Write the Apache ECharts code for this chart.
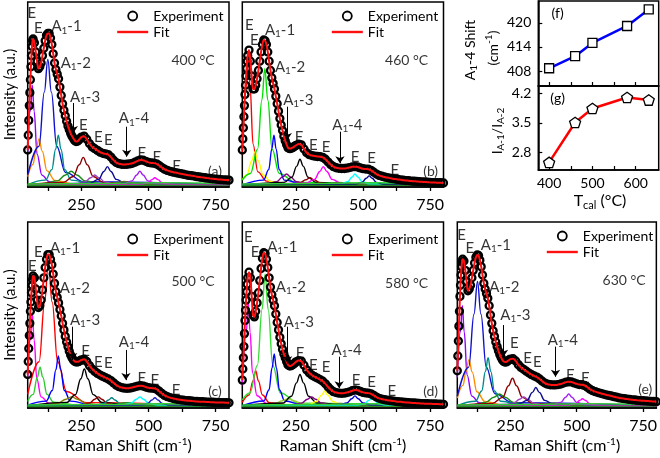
<!DOCTYPE html>
<html><head><meta charset="utf-8">
<script src="https://cdn.jsdelivr.net/npm/echarts@6.0.0/dist/echarts.min.js"></script>
<style>html,body{margin:0;padding:0;background:#fff}#c{width:660px;height:458px}</style>
</head><body><div id="c"></div><script>
const FONT = 'Lato';
// ---------- DATA ----------
const ramanShift = [50,52,54,56,58,60,62,64,66,68,70,75,80,85,90,95,100,105,110,115,120,125,130,135,140,145,150,155,160,165,170,175,180,185,190,195,200,205,210,215,220,225,230,235,240,245,250,260,270,280,290,300,310,320,330,340,350,360,370,380,390,400,410,420,430,440,450,460,470,480,490,500,510,520,530,540,550,560,570,580,590,600,610,620,630,640,650,660,670,680,690,700,710,720,730,740,750,760,770,780,790,800];
const intensity400 = [20,28,36,44,51,58,65,71,76,79,80,78,73,68,64,65,67,71,75,79,82,83,83,80.5,77,72,67,63.5,61,58.5,54,49.5,45,41.5,38.5,35.5,33,31,29,27.5,26.3,25.2,24.6,24.7,25.3,26.2,27,
 27.5,25.8,23.5,21.7,20.7,19.8,18.8,18.2,17.9,17.5,16.2,14.5,13.2,12.6,12.3,12.2,12.3,12.5,12.8,13.4,14.1,14.6,14.5,13.9,13.3,13.0,12.9,12.5,11.6,10.5,9.6,9.0,8.5,8.1,7.8,7.5,7.2,6.9,6.6,6.3,6.1,5.9,5.6,5.4,5.2,5.0,4.8,4.6,4.4,4.3,4.1,4.0,3.9,3.8,3.7];
const intensity460 = [20,26,32,38,44,50,55,60,64,68,71,74,68,60,53,53,55,58.5,63,68,73,77,79.5,79,77,73,68,63,59,56,53,49,45,41,37,33.5,30.5,27.5,25,23,21.3,20.8,20.8,21.1,21.5,22,22.5,
 23.2,22.8,20.5,18.5,17.5,17,16.7,16.5,16.4,16,15,13.5,12,11,10.4,10.1,10,10,10.2,10.5,10.9,11,10.8,10.3,9.9,9.7,9.6,9.0,8.0,7.0,6.3,5.8,5.4,5.1,4.8,4.5,4.3,4.1,3.9,3.7,3.5,3.4,3.2,3.1,3.0,2.9,2.8,2.7,2.6,2.5,2.4,2.4,2.3,2.3,2.2];
const intensity500 = [18,25,32,39,45.5,52,57,62,66,69,71,70,64,58,54,55,58,63.5,70,75.5,80,82.5,82.5,80,77,72,67,62.5,59.5,56.5,53,49.5,45.5,42,38.5,35.5,33,30.5,28.5,27,25.8,25.1,24.8,24.8,25,25.4,25.8,
 26.2,25,22.8,21,19.7,18.6,17.7,17,16.3,15.6,14.7,13.5,12.3,11.5,11,10.7,10.6,10.7,11,11.4,11.8,12,11.8,11.3,10.9,10.7,10.6,10.1,9.0,7.8,6.8,6.1,5.6,5.2,4.9,4.6,4.4,4.2,4.0,3.9,3.8,3.6,3.5,3.4,3.35,3.3,3.2,3.15,3.1,3.0,3.0,2.9,2.9,2.85,2.8];
const intensity580 = [15,21,27,33,40,47,52.5,58,62.5,66.5,70,73,70,60,50,49,52,56.5,62,68.5,75,80.5,83.5,83,80,75.5,70,65,61,58,55,50.5,46,42,38,34.5,31.5,29,27,25,23.3,22.7,22.6,23,23.5,24.1,24.8,
 25.5,25.2,23,20.5,18.8,17.6,16.8,16.1,15.3,14.4,13,11.3,9.8,8.8,8.3,8.0,7.9,8.0,8.3,8.7,9.3,9.7,9.5,8.9,8.4,8.1,8.0,7.6,6.8,5.9,5.2,4.8,4.5,4.2,4.0,3.8,3.6,3.4,3.3,3.1,3.0,2.9,2.8,2.7,2.6,2.5,2.4,2.35,2.3,2.25,2.2,2.15,2.1,2.05,2.0];
const intensity630 = [20,28,36,44,52,60,66,71.5,76,78.5,80,79,74,68,63,64,66,70,74,78,81,82.3,82,79.5,76,71.5,67,64,61.5,59,55,50,45.5,41.5,38.5,35.5,33,30.8,28.8,27.2,25.8,25,24.7,24.8,25.3,25.8,26.3,
 26.5,25.3,23.3,21.8,20.8,19.8,18.8,17.9,17.2,16.6,15.6,14.4,13.4,12.8,12.5,12.4,12.4,12.6,12.9,13.4,13.9,14.1,14.0,13.5,13.0,12.6,12.5,12.1,11.2,10.1,9.3,8.8,8.3,7.9,7.5,7.1,6.8,6.5,6.1,5.8,5.4,5.2,5.0,4.8,4.6,4.4,4.3,4.1,4.0,3.9,3.8,3.7,3.6,3.5,3.4];

// fitted component peaks: [shift, intensity] points
const comp400 = [
 [[50,19],[60,41],[67,55],[74,41],[85,17.7],[103,6.4],[130,2.9],[200,1.5],[800,1]],
 [[50,5.6],[70,12.3],[80,19.4],[92,26],[104,19.4],[122,8.7],[152,3.5],[220,1.6],[800,1]],
 [[50,6.4],[92,22],[112,51.4],[125,69],[138,51.4],[158,22],[191,7.8],[260,2.8],[800,1]],
 [[50,1.3],[116,3.7],[140,9.4],[154,20.4],[164,28],[174,20.4],[188,9.4],[212,3.7],[300,1.4],[800,1]],
 [[50,1.5],[107,1.8],[160,3.3],[191,6.5],[212,8.5],[233,6.5],[264,3.3],[317,1.8],[450,1.2],[800,1]],
 [[50,1.2],[182,2.5],[220,5.7],[242,12],[257,16],[272,12],[294,5.7],[332,2.5],[450,1.3],[800,1]],
 [[50,1],[225,1.5],[262,2.7],[285,5],[300,6.5],[315,5],[338,2.7],[375,1.5],[800,1]],
 [[50,1],[281,2],[314,4.1],[334,8.4],[347,11],[360,8.4],[380,4.1],[413,2],[550,1.2],[800,1]],
 [[50,1],[340,1.3],[410,3],[480,1.3],[800,1]],
 [[50,1],[408,1.75],[438,3.3],[456,6.5],[468,8.5],[480,6.5],[498,3.3],[528,1.75],[650,1.1],[800,1]],
 [[50,1],[470,1.4],[497,2.2],[513,4],[524,5],[535,4],[551,2.2],[578,1.4],[800,1]],
 [[50,1.6],[300,1.9],[550,2.3],[800,2.0]],
 [[50,0.8],[800,1.0]]
];
const comp460 = [
 [[50,17.5],[65,54],[72,73],[79,54],[90,23.2],[108,8.2],[140,3.2],[250,1.3],[800,1]],
 [[50,3.8],[67,6.6],[85,14.2],[97,19],[109,14.2],[127,6.6],[157,2.8],[250,1.3],[800,1]],
 [[50,3.8],[80,7.3],[107,20.5],[123,47],[134,64],[145,47],[161,20.5],[188,7.3],[250,2.5],[800,1]],
 [[50,1.1],[129,3.7],[148.5,9.4],[160,20.6],[168,28],[176,20.6],[187.5,9.4],[207,3.7],[280,1.4],[800,1]],
 [[50,1.2],[140,1.6],[178,2.9],[200,5.4],[215,7],[230,5.4],[252,2.9],[290,1.6],[400,1.1],[800,1]],
 [[50,1],[205,2.4],[235,5.3],[253,11.3],[265,15],[277,11.3],[295,5.3],[325,2.4],[450,1.2],[800,1]],
 [[50,1],[227,1.4],[264,2.2],[287,3.9],[302,5],[317,3.9],[340,2.2],[377,1.4],[800,1]],
 [[50,1],[286,2],[319,4.1],[339,8.4],[352,11],[365,8.4],[385,4.1],[418,2],[550,1.2],[800,1]],
 [[50,1],[340,1.3],[410,2.5],[480,1.3],[800,1]],
 [[50,1],[416,1.6],[443,2.9],[459,5.4],[470,7],[481,5.4],[497,2.9],[524,1.6],[800,1]],
 [[50,1],[469,1.5],[496,2.5],[512,4.7],[523,6],[534,4.7],[550,2.5],[577,1.5],[800,1]],
 [[50,1.6],[300,1.9],[550,2.3],[800,2.0]],
 [[50,0.8],[800,1.0]]
];
const comp500 = [
 [[50,15.7],[60,36.6],[67,51],[74,36.6],[84,15.7],[100,6],[130,2.5],[250,1.2],[800,1]],
 [[50,3.5],[70,7.3],[86,16.6],[96,22],[106,16.6],[122,7.3],[147,3.1],[250,1.2],[800,1]],
 [[50,7.3],[92.5,24.9],[113,57],[127,78],[141,57],[161.5,24.9],[196,8.7],[270,2.9],[800,1]],
 [[50,1.5],[119,3.7],[141.5,9.4],[155,20.6],[164,28],[173,20.6],[186.5,9.4],[209,3.7],[300,1.3],[800,1]],
 [[50,1.3],[109,1.5],[161,2.5],[193,4.7],[214,6],[235,4.7],[267,2.5],[319,1.5],[800,1]],
 [[50,1.2],[195,3],[228,7.2],[248,15.7],[261,21],[274,15.7],[294,7.2],[327,3],[450,1.3],[800,1]],
 [[50,1],[247,1.5],[280,2.6],[300,4.7],[313,6],[326,4.7],[346,2.6],[379,1.5],[800,1]],
 [[50,1],[303,1.45],[333,2.4],[351,4.3],[363,5.5],[375,4.3],[393,2.4],[423,1.45],[800,1]],
 [[50,1],[350,1.3],[420,2.8],[490,1.3],[800,1]],
 [[50,1],[402,1.5],[435,2.6],[455,4.7],[468,6],[481,4.7],[501,2.6],[534,1.5],[800,1]],
 [[50,1],[470,1.45],[497,2.4],[513,4.3],[524,5.5],[535,4.3],[551,2.4],[578,1.45],[800,1]],
 [[50,1.6],[300,1.9],[550,2.3],[800,2.0]],
 [[50,0.8],[800,1.0]]
];
const comp580 = [
 [[50,12.2],[65,40.8],[72,57],[79,40.8],[88,19],[105,6.6],[140,2.5],[250,1.2],[800,1]],
 [[50,3],[75,7],[90,14.5],[100,20],[110,14.5],[125,7],[151,2.9],[250,1.2],[800,1]],
 [[50,4.4],[78,8.1],[106.5,23],[123.6,53],[135,72],[146.4,53],[163.5,23],[192,8.1],[260,2.6],[800,1]],
 [[50,1.2],[130,3.8],[149.5,9.7],[161,21.6],[169,29],[177,21.6],[188.5,9.7],[208,3.8],[280,1.4],[800,1]],
 [[50,1.2],[116,1.4],[168,2.2],[200,3.9],[221,5],[242,3.9],[274,2.2],[326,1.4],[800,1]],
 [[50,1.2],[202,2.7],[233,6.3],[252,13.5],[265,18],[278,13.5],[297,6.3],[328,2.7],[450,1.3],[800,1]],
 [[50,1],[233,1.5],[270,2.6],[293,4.7],[308,6],[323,4.7],[346,2.6],[383,1.5],[800,1]],
 [[50,1],[297,1.8],[327,3.5],[345,6.9],[357,9],[369,6.9],[387,3.5],[417,1.8],[550,1.1],[800,1]],
 [[50,1],[350,1.3],[415,2.5],[480,1.3],[800,1]],
 [[50,1],[410,1.55],[440,2.7],[458,5],[470,6.5],[482,5],[500,2.7],[530,1.55],[800,1]],
 [[50,1],[478,1.4],[505,2.2],[521,4],[532,5],[543,4],[559,2.2],[586,1.4],[800,1]],
 [[50,1.6],[300,1.9],[550,2.3],[800,2.0]],
 [[50,0.8],[800,1.0]]
];
const comp630 = [
 [[50,16.4],[62,41],[69,55],[76,41],[87,17.7],[105,6.4],[132,2.9],[200,1.5],[800,1]],
 [[50,5.3],[72,12.3],[82,19.4],[94,26],[106,19.4],[124,8.7],[154,3.5],[220,1.6],[800,1]],
 [[50,6.3],[93,22],[113,50.5],[126,68],[139,50.5],[159,22],[192,7.7],[260,2.8],[800,1]],
 [[50,1.3],[118,3.6],[142,9.1],[156,19.7],[166,27],[176,19.7],[190,9.1],[214,3.6],[300,1.4],[800,1]],
 [[50,1.3],[104,1.65],[157,3],[188,5.8],[209,7.5],[230,5.8],[261,3],[314,1.65],[450,1.2],[800,1]],
 [[50,1.2],[183,2.5],[221,5.7],[243,12],[258,16],[273,12],[295,5.7],[333,2.5],[450,1.3],[800,1]],
 [[50,1],[225,1.5],[262,2.6],[285,4.7],[300,6],[315,4.7],[338,2.6],[375,1.5],[800,1]],
 [[50,1],[280,2],[313,4.1],[333,8.4],[346,11],[359,8.4],[379,4.1],[412,2],[550,1.2],[800,1]],
 [[50,1],[340,1.3],[415,2.6],[490,1.3],[800,1]],
 [[50,1],[410,1.65],[440,3],[458,5.8],[470,7.5],[482,5.8],[500,3],[530,1.65],[650,1.1],[800,1]],
 [[50,1],[468,1.4],[495,2.2],[511,4],[522,5],[533,4],[549,2.2],[576,1.4],[800,1]],
 [[50,1.6],[300,1.9],[550,2.3],[800,2.0]],
 [[50,0.8],[800,1.0]]
];
const temperatures = ['400 °C','460 °C','500 °C','580 °C','630 °C'];
const panelTags = ['(a)','(b)','(c)','(d)','(e)'];
const shiftTicks = [125,250,375,500,625,750];
const shiftTickLabels = [250,500,750];

const calcTemp = [400,460,500,580,630];
const a14Shift = [408.7,411.7,415.0,419.2,423.3];
const intensityRatio = [2.57,3.51,3.84,4.10,4.04];
const tempTicks = [400,450,500,550,600];
const tempTickLabels = [400,500,600];
const shiftAxisLabels = [408,414,420];
const ratioAxisLabels = [2.8,3.5,4.2];

// ---------- STYLE / LAYOUT ----------
const colors400 = ['#8f00ff','#ff8c00','#1010d0','#008b8b','#1a8c1a','#8b0000','#a040c0','#0a0a90','#556b2f','#a020f0','#ff00ff','#32cd32','#228b22'];
const colors460 = ['#ff0000','#ffff00','#00e000','#0000ff','#800080','#000000','#8b0000','#ff00ff','#556b2f','#00ffff','#00008b','#32cd32','#228b22'];
const colors500 = ['#ff00ff','#2ecc2e','#ff0000','#0000ff','#808000','#000000','#8b0000','#008080','#228b22','#00ffff','#2020c0','#32cd32','#228b22'];
const colors580 = ['#ff00ff','#ff0000','#33dd33','#0000ff','#9acd32','#000000','#800080','#ffff00','#556b2f','#0000cd','#00ffff','#32cd32','#228b22'];
const colors630 = colors400;

// annotations: [text, shift, intensity]
const ann400 = [['E',65,94],['E',89.5,85.8],['A1-1',194.6,86.8],['A1-2',229,66.9],['A1-3',263.5,48.8],['E',257,33.5],['E',313,27.2],['E',350,25.4],['A1-4',446,37.1],['E',475,18.2],['E',530.7,16.4],['E',605,11]];
const ann460 = [['E',76,87.6],['E',94.7,79.5],['A1-1',190.5,84.9],['A1-2',228,65],['A1-3',258.6,47],['E',262,27.2],['E',314.5,22.7],['E',362,21.8],['A1-4',442,33.5],['E',470,16.4],['E',532,15.5],['E',619,9.2]];
const ann500 = [['E',67,76],['E',89.5,84],['A1-1',189,85.9],['A1-2',226,64.4],['A1-3',263.5,47.3],['E',266,30.3],['E',313,24.9],['E',350,24],['A1-4',446,35.6],['E',475,16],['E',524,15],['E',602.6,9.7]];
const ann580 = [['E',72.4,92],['E',97.4,84],['A1-1',199,86.7],['A1-2',231,65.2],['A1-3',261,46.4],['E',265,29.4],['E',314.5,23.1],['E',362,22.2],['A1-4',439,31.2],['E',474,15],['E',532,14.1],['E',607,8.8]];
const ann630 = [['E',66.4,93],['E',97.4,85.9],['A1-1',195.6,87.6],['A1-2',227.2,65.2],['A1-3',268.7,50],['E',265,34.8],['E',314.7,26.7],['E',352,24.9],['A1-4',447.5,36.6],['E',476,17.7],['E',532,16]];
const arr400 = [[220,45.4,29.2],[419,32.6,16.4]];
const arr460 = [[217.7,43.4,25.4],[414,29.9,12.8]];
const arr500 = [[217.6,43.7,25.8],[416,31.2,15]];
const arr580 = [[219,43.7,24],[411,27.6,10.6]];
const arr630 = [[224,44.6,27.6],[420,33,16.8]];

const panels = [
 {grid:{left:27.7,top:2,width:201.3,height:185}, exp:intensity400, comps:comp400, colors:colors400, ann:ann400, arrows:arr400, tempPos:[666,68.6], tagPos:[748,8.3], legendTop:9, yName:true, xName:false},
 {grid:{left:242.3,top:2,width:201.2,height:185}, exp:intensity460, comps:comp460, colors:colors460, ann:ann460, arrows:arr460, tempPos:[662.6,68.6], tagPos:[752,8.3], legendTop:9, yName:false, xName:false},
 {grid:{left:27.7,top:222,width:201.3,height:186}, exp:intensity500, comps:comp500, colors:colors500, ann:ann500, arrows:arr500, tempPos:[666,67.9], tagPos:[748,8.8], legendTop:232, yName:true, xName:true},
 {grid:{left:242.3,top:222,width:201.2,height:186}, exp:intensity580, comps:comp580, colors:colors580, ann:ann580, arrows:arr580, tempPos:[662.6,67], tagPos:[752,8.8], legendTop:232, yName:false, xName:true},
 {grid:{left:457.3,top:222,width:201.2,height:186}, exp:intensity630, comps:comp630, colors:colors630, ann:ann630, arrows:arr630, tempPos:[678.6,68.8], tagPos:[758,9.7], legendTop:229, yName:false, xName:true}
];

const subRich = {
  t: {fontSize: 15, fontFamily: FONT, color: '#000'},
  s: {fontSize: 10, fontFamily: FONT, color: '#000', padding: [8,0,0,0]}
};
function fmtLabel(t){
  const m = /^A1-(\d)$/.exec(t);
  if (m) return '{t|A}{s|1}{t|-' + m[1] + '}';
  return '{t|' + t + '}';
}

const grids = [], xAxes = [], yAxes = [], series = [], legends = [];
panels.forEach((p, i) => {
  grids.push(Object.assign({show:true, borderColor:'#000', borderWidth:1.5, backgroundColor:'transparent'}, p.grid));
  xAxes.push({
    type:'value', gridIndex:i, min:50, max:800,
    axisLine:{show:true, onZero:false, lineStyle:{color:'#000', width:1.5}},
    axisTick:{show:true, inside:false, length:4, lineStyle:{color:'#000', width:1.3}, customValues: shiftTicks},
    axisLabel:{show:true, customValues: shiftTickLabels, fontSize:16, margin:10, fontFamily:FONT, color:'#000'},
    splitLine:{show:false},
    name: p.xName ? '{t|Raman Shift (cm}{p|-1}{t|)}' : '',
    nameLocation:'middle', nameGap:29,
    nameTextStyle:{rich:{t:{fontSize:16,fontFamily:FONT,color:'#000'}, p:{fontSize:10,fontFamily:FONT,color:'#000',padding:[0,0,8,0]}}}
  });
  yAxes.push({
    type:'value', gridIndex:i, min:0, max:100,
    axisLine:{show:false}, axisTick:{show:false}, axisLabel:{show:false}, splitLine:{show:false},
    name: p.yName ? 'Intensity (a.u.)' : '', nameLocation:'middle', nameGap:10, nameRotate:90,
    nameTextStyle:{fontSize:15, fontFamily:FONT, color:'#000'}
  });
  p.comps.forEach((c, k) => {
    series.push({type:'line', xAxisIndex:i, yAxisIndex:i, data:c, symbol:'none', showSymbol:false, smooth:0.4, smoothMonotone:'x',
      lineStyle:{color:p.colors[k], width:1.4}, z:1, silent:true});
  });
  series.push({type:'scatter', name:'Experiment', xAxisIndex:i, yAxisIndex:i,
    data: ramanShift.map((x, j) => [x, p.exp[j]]), symbol:'circle', symbolSize:7,
    itemStyle:{color:'rgba(0,0,0,0)', borderColor:'#000', borderWidth:2.3, opacity:1}, z:2, silent:true});
  series.push({type:'line', name:'Fit', xAxisIndex:i, yAxisIndex:i,
    data: ramanShift.map((x, j) => [x, p.exp[j]]), symbol:'none', showSymbol:false, smooth:0.3,
    lineStyle:{color:'#ff1010', width:2}, itemStyle:{color:'#ff1010'}, z:3, silent:true});
  series.push({type:'scatter', xAxisIndex:i, yAxisIndex:i, symbolSize:1, itemStyle:{color:'rgba(0,0,0,0)'}, z:5, silent:true,
    data: p.ann.map(a => ({value:[a[1], a[2]], name:a[0]})),
    label:{show:true, position:'inside', formatter: q => fmtLabel(q.name), rich: subRich},
    markLine:{silent:true, animation:false, symbol:['none','arrow'], symbolSize:7, label:{show:false},
      lineStyle:{color:'#000', width:1, type:'solid'},
      data: p.arrows.map(a => [{coord:[a[0], a[1]]}, {coord:[a[0], a[2]]}])}
  });
  series.push({type:'scatter', xAxisIndex:i, yAxisIndex:i, symbolSize:1, itemStyle:{color:'rgba(0,0,0,0)'}, z:5, silent:true,
    data: [{value:p.tempPos, name:temperatures[i]}, {value:p.tagPos, name:panelTags[i]}],
    label:{show:true, position:'inside', formatter: q => q.name, fontSize:14, fontFamily:FONT, color:'#000'}
  });
  legends.push({
    data:[{name:'Experiment', icon:'circle', itemStyle:{color:'rgba(0,0,0,0)', borderColor:'#000', borderWidth:1.8}},
          {name:'Fit', icon:'path://M0,0 L31,0 L31,2.4 L0,2.4 Z', itemStyle:{color:'#ff1010', borderWidth:0}}],
    orient:'vertical', left:p.grid.left + 89.5, top:p.legendTop, itemWidth:31, itemHeight:9, itemGap:2, padding:0,
    selectedMode:false, textStyle:{fontSize:14, fontFamily:FONT, color:'#000'}
  });
});

// panels f and g
grids.push({show:true, borderColor:'#000', borderWidth:1.5, left:538.3, top:1, width:120.4, height:85});
grids.push({show:true, borderColor:'#000', borderWidth:1.5, left:538.3, top:86, width:120.4, height:84});
const smallX = (gi, labels) => ({type:'value', gridIndex:gi, min:375, max:653,
  axisLine:{show:true, onZero:false, lineStyle:{color:'#000', width:1.5}},
  axisTick:{show:true, inside:true, length:4, customValues:tempTicks, lineStyle:{color:'#000', width:1.2}},
  axisLabel:{show:labels, customValues:tempTickLabels, fontSize:14, margin:6, fontFamily:FONT, color:'#000'},
  splitLine:{show:false}});
xAxes.push(smallX(5, false));
xAxes.push(smallX(6, true));
yAxes.push({type:'value', gridIndex:5, min:404.3, max:425.4,
  axisLine:{show:true, lineStyle:{color:'#000', width:1.5}},
  axisTick:{show:true, inside:true, length:4, customValues:shiftAxisLabels, lineStyle:{color:'#000', width:1.2}},
  axisLabel:{customValues:shiftAxisLabels, fontSize:14, margin:7, fontFamily:FONT, color:'#000'}, splitLine:{show:false}});
yAxes.push({type:'value', gridIndex:6, min:2.39, max:4.37,
  axisLine:{show:true, lineStyle:{color:'#000', width:1.5}},
  axisTick:{show:true, inside:true, length:4, customValues:ratioAxisLabels, lineStyle:{color:'#000', width:1.2}},
  axisLabel:{customValues:ratioAxisLabels, fontSize:14, margin:7, fontFamily:FONT, color:'#000', formatter: v => v.toFixed(1)}, splitLine:{show:false}});
series.push({type:'line', xAxisIndex:5, yAxisIndex:5, data:calcTemp.map((t, i) => [t, a14Shift[i]]),
  symbol:'rect', symbolSize:9, showSymbol:true, lineStyle:{color:'#0000ff', width:2.5},
  itemStyle:{color:'#fff', borderColor:'#000', borderWidth:1.3}, z:3, silent:true});
series.push({type:'line', xAxisIndex:6, yAxisIndex:6, data:calcTemp.map((t, i) => [t, intensityRatio[i]]),
  symbol:'path://M0,-10 L9.51,-3.09 L5.88,8.09 L-5.88,8.09 L-9.51,-3.09 Z', symbolSize:11, symbolKeepAspect:true, showSymbol:true,
  lineStyle:{color:'#ff0000', width:2.5}, itemStyle:{color:'#fff', borderColor:'#000', borderWidth:1.3}, z:3, silent:true});

const r14 = {
  t:{fontSize:14, fontFamily:FONT, fill:'#000'},
  s:{fontSize:10, fontFamily:FONT, fill:'#000', padding:[8,0,0,0]},
  p:{fontSize:10, fontFamily:FONT, fill:'#000', padding:[0,0,8,0]}
};
const r16 = {
  t:{fontSize:16, fontFamily:FONT, fill:'#000'},
  s:{fontSize:11, fontFamily:FONT, fill:'#000', padding:[9,0,0,0]}
};
const graphic = [
  {type:'text', x:470, y:50, rotation:Math.PI/2, style:{text:'{t|A}{s|1}{t|-4 Shift}', rich:r14, align:'center', verticalAlign:'middle'}},
  {type:'text', x:493, y:48, rotation:Math.PI/2, style:{text:'{t|(cm}{p|-1}{t|)}', rich:r14, align:'center', verticalAlign:'middle'}},
  {type:'text', x:497, y:131, rotation:Math.PI/2, style:{text:'{t|I}{s|A-1}{t|/I}{s|A-2}', rich:r14, align:'center', verticalAlign:'middle'}},
  {type:'text', x:600, y:201, style:{text:'{t|T}{s|cal}{t| (°C)}', rich:r16, align:'center', verticalAlign:'middle'}},
  {type:'text', x:557.7, y:13.3, style:{text:'(f)', fontSize:14, fontFamily:FONT, fill:'#000', align:'center', verticalAlign:'middle'}},
  {type:'text', x:557.7, y:98.3, style:{text:'(g)', fontSize:14, fontFamily:FONT, fill:'#000', align:'center', verticalAlign:'middle'}}
];

const chart = echarts.init(document.getElementById('c'), null, {renderer:'canvas'});
chart.setOption({
  animation:false, backgroundColor:'#fff', textStyle:{fontFamily:FONT},
  grid:grids, xAxis:xAxes, yAxis:yAxes, series:series, legend:legends, graphic:graphic
});
</script></body></html>
